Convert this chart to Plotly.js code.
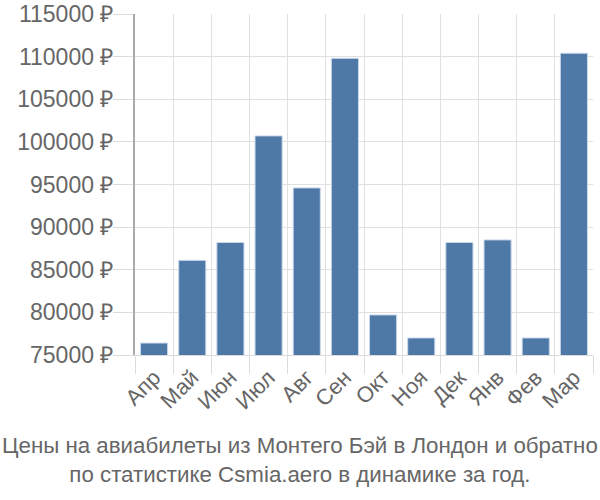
<!DOCTYPE html>
<html>
<head>
<meta charset="utf-8">
<script src="https://cdn.plot.ly/plotly-3.0.1.min.js"></script>
<style>html,body{margin:0;padding:0;background:#fff;}#chart{width:600px;height:500px;}</style>
</head>
<body>
<div id="chart"></div>
<script>
const months = ["Апр","Май","Июн","Июл","Авг","Сен","Окт","Ноя","Дек","Янв","Фев","Мар"];
const prices = [76400, 86100, 88200, 100700, 94600, 109800, 79700, 77000, 88200, 88500, 77000, 110400];
const titleLines = ["Цены на авиабилеты из Монтего Бэй в Лондон и обратно", "по статистике Csmia.aero в динамике за год."];

const font = "Liberation Sans";
Plotly.newPlot('chart', [{
  type: 'bar',
  x: months,
  y: prices,
  marker: {color: '#4e79a7', line: {color: '#c9d8ea', width: 1}},
  hoverinfo: 'none'
}], {
  width: 600, height: 500,
  margin: {l: 135, r: 7, t: 14, b: 145},
  paper_bgcolor: '#fff', plot_bgcolor: '#fff',
  bargap: 0.29,
  showlegend: false,
  xaxis: {
    type: 'category',
    tickson: 'boundaries',
    showgrid: true, gridcolor: '#e0e0e0', gridwidth: 1,
    ticks: 'outside', ticklen: 18, tickcolor: '#dcdcdc',
    tickangle: -45,
    tickfont: {family: font, size: 22, color: '#666'},
    showline: true, linecolor: '#dcdcdc', linewidth: 1,
    mirror: false
  },
  yaxis: {
    range: [75000, 115000],
    dtick: 5000, tick0: 75000,
    tickformat: 'd', ticksuffix: ' ₽',
    showgrid: true, gridcolor: '#e0e0e0', gridwidth: 1,
    ticks: 'outside', ticklen: 20, tickcolor: '#dcdcdc',
    ticklabelstandoff: -5,
    tickfont: {family: font, size: 23, color: '#666'},
    showline: true, linecolor: '#aaa', linewidth: 2,
    zeroline: false
  },
  annotations: [{
    xref: 'paper', yref: 'paper', x: (300 - 135) / 458, y: 0, yshift: -76,
    xanchor: 'center', yanchor: 'top',
    text: titleLines.join('<br>'),
    showarrow: false,
    font: {family: font, size: 22.3, color: '#666'}
  }]
}, {staticPlot: true});
</script>
</body>
</html>
